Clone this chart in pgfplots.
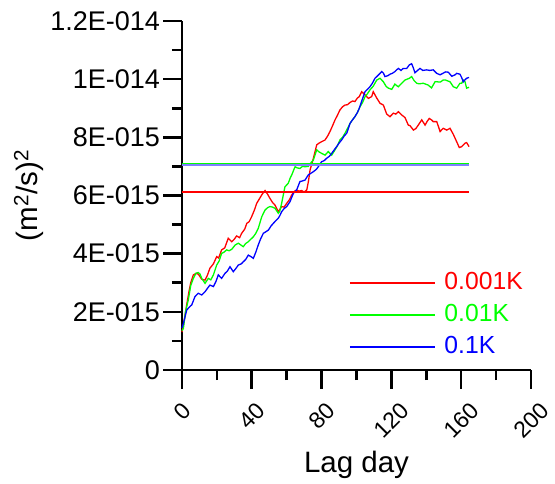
\documentclass[border=0pt]{standalone}
\usepackage{fontspec}
\setmainfont{Liberation Sans}
\usepackage{graphicx}
\usepackage{pgfplots}
\pgfplotsset{compat=1.18}
\definecolor{pgreen}{RGB}{0,255,0}
\definecolor{pblue}{RGB}{0,0,255}
\definecolor{pred}{RGB}{255,0,0}
\definecolor{lblue}{RGB}{128,128,255}
\begin{document}
\begin{tikzpicture}
\path[use as bounding box] (-182pt,-113pt) rectangle (373pt,370pt);
\begin{axis}[
  at={(0pt,0pt)}, anchor=south west,
  scale only axis, width=349pt, height=349pt,
  xmin=0, xmax=200, ymin=0, ymax=12,
  axis x line=bottom, axis y line=left,
  axis line style={-, line width=2.6pt},
  every tick/.style={black, line width=2.6pt},
  tick align=outside,
  major tick length=18.5pt, minor tick length=10pt,
  xtick={0,40,80,120,160,200},
  minor x tick num=1,
  ytick={0,2,4,6,8,10,12},
  yticklabels={0,2E-015,4E-015,6E-015,8E-015,1E-014,1.2E-014},
  minor y tick num=1,
  /pgf/number format/assume math mode=true,
  yticklabel style={font=\fontsize{27}{30}\selectfont},
  xticklabel style={font=\fontsize{23}{26}\selectfont, anchor=north, yshift=-9pt},
  xticklabel={\rotatebox{45}{\pgfmathprintnumber{\tick}}},
  xlabel={Lag day},
  xlabel style={yshift=-5pt},
  ylabel={(m\textsuperscript{2}/s)\textsuperscript{2}},
  label style={font=\fontsize{29.5}{33}\selectfont},
  clip=false,
  legend style={draw=none, fill=none, at={(axis cs:95.7,1.89)}, anchor=west,
    font=\fontsize{24.7}{28}\selectfont, inner sep=0pt, row sep=8pt,
    column sep=9pt,
    nodes={inner sep=0pt, text height=18pt, text depth=6pt}},
  legend cell align=left,
  legend image code/.code={\draw[#1] (0pt,0pt) -- (85pt,0pt);},
]
\addplot[pred, line width=1.3pt] coordinates {
(0,1.3) (1,1.6) (2.7,2.24) (4,2.7) (5,3.0) (6.5,3.27) (8,3.32) (9.3,3.30) (11.3,3.12) (13.2,3.09)
(14.5,3.25) (16,3.5) (18,3.65) (19.9,3.9) (21,3.85) (22.7,4.13) (24.5,4.2) (26.5,4.53) (28.5,4.41) (30,4.5)
(31.3,4.61) (33,4.55) (34.2,4.70) (36,4.85) (37.1,5.04) (38.5,5.1) (39.9,5.27) (41.5,5.5) (42.8,5.73) (44.5,5.9)
(46,6.05) (47.6,6.17) (49,6.05) (50.4,5.90) (52,5.75) (53.3,5.67) (55.2,5.44) (57.1,5.62) (58.5,5.6) (60,5.73)
(61.5,5.85) (62.9,6.02) (64.5,6.15) (65.7,6.19) (67,6.15) (68.6,6.17) (70,6.12) (71.5,6.19) (72.5,6.5) (73.4,6.88)
(75.3,7.28) (77.2,7.74) (78.5,7.8) (80,7.85) (82,7.91) (83.5,8.05) (84.8,8.2) (86.3,8.4) (87.7,8.6) (89,8.75)
(90.5,8.94) (92,9.05) (93.4,9.11) (94.8,9.12) (96.3,9.2) (97.8,9.25) (99.1,9.23) (100.5,9.35) (101.6,9.4) (103,9.57)
(104.9,9.46) (106.8,9.34) (108.7,9.4) (109.6,9.57) (111.6,9.35) (113.5,9.17) (115.4,9.11) (117.3,8.8) (119.2,8.71) (121.1,8.83)
(122.5,8.8) (124,8.88) (125.9,8.77) (127.8,8.68) (129.7,8.42) (130.7,8.4) (132.6,8.25) (134,8.3) (135.4,8.42) (137.4,8.6)
(139.3,8.42) (140.5,8.55) (141.7,8.65) (143,8.6) (144,8.54) (146,8.54) (147.9,8.2) (149.7,8.31) (151.7,8.25) (153.6,8.31)
(155.5,8.1) (157.4,7.85) (158.9,7.65) (160.3,7.68) (161.2,7.74) (162.2,7.8) (163.1,7.82) (164.5,7.68)
};
\addlegendentry{\textcolor{pred}{0.001K}}
\addplot[pgreen, line width=1.3pt] coordinates {
(0,1.35) (0.8,1.43) (2,2.0) (3.6,2.41) (5,2.9) (6.5,3.15) (8,3.33) (9.3,3.35) (10.3,3.3) (11.3,3.15)
(13.2,2.98) (15.1,3.15) (16.5,3.1) (18,3.27) (19.9,3.61) (21.3,3.75) (22.7,4.01) (24,4.05) (25.6,4.13) (27,4.1)
(28.5,4.15) (30.5,4.3) (32.3,4.36) (33.7,4.3) (35.1,4.24) (36.5,4.35) (38,4.41) (39.5,4.5) (40.9,4.58) (42.3,4.7)
(43.7,4.87) (45.7,5.27) (47.6,5.5) (49,5.58) (50.4,5.62) (52,5.6) (53.3,5.56) (55.2,5.39) (56,5.45) (57.1,5.73)
(58,6.0) (59,6.3) (60.9,6.42) (62,6.6) (62.9,6.71) (64.8,6.99) (66,6.95) (67.6,6.93) (69,7.0) (70.5,6.99)
(72.4,7.0) (73.5,7.1) (75.3,7.22) (77.2,7.57) (78.5,7.5) (80,7.45) (82,7.39) (83.8,7.51) (85.8,7.39) (87.7,7.57)
(89,7.7) (90.5,7.91) (92,8.0) (93.4,8.14) (94.8,8.3) (96.3,8.48) (97.7,8.6) (99.1,8.71) (100.5,8.85) (102,9.05)
(103.5,9.2) (104.9,9.4) (106.3,9.5) (107.7,9.63) (109.5,9.75) (111.6,9.97) (113.5,10.03) (115.4,9.91) (117,9.75) (118.3,9.69)
(120.2,9.65) (122,9.83) (123,9.78) (124,9.74) (125.9,9.86) (127.8,9.97) (129,10.0) (130.3,10.03) (131.6,10.09) (133,9.95)
(134.5,9.86) (136,9.84) (138.3,9.86) (140,9.82) (141,9.8) (143,9.7) (145,9.91) (146,9.91) (148,9.9) (149.7,9.97)
(151,9.97) (153.6,9.91) (155.5,9.74) (157.4,9.69) (159.3,9.86) (160.3,9.86) (161.2,9.97) (162.2,9.91) (163.1,9.69) (164.5,9.72)
};
\addlegendentry{\textcolor{pgreen}{0.01K}}
\addplot[pblue, line width=1.3pt] coordinates {
(0,1.45) (0.8,1.6) (2.7,2.06) (4,2.15) (5.6,2.24) (7.4,2.52) (9.3,2.64) (11.3,2.58) (13.2,2.69) (14.5,2.8)
(16,2.92) (18,2.87) (19.5,3.05) (20.8,3.27) (22.7,3.15) (24.6,3.32) (26,3.4) (27.5,3.55) (29.4,3.38) (31,3.5)
(32.3,3.61) (34,3.65) (35.1,3.72) (36.5,3.8) (38,3.95) (39.5,3.9) (40.9,3.84) (42.3,4.05) (43.7,4.3) (45,4.5)
(46.6,4.7) (48,4.75) (49.5,4.81) (51,4.95) (52.3,5.04) (54,5.15) (55.2,5.22) (56,5.3) (57.1,5.44) (58.5,5.55)
(60,5.62) (61.9,5.79) (63.8,6.07) (65.7,6.19) (67.6,6.48) (69,6.5) (70.5,6.53) (72.4,6.71) (73.5,6.75) (75.3,6.82)
(77,6.9) (78.1,6.99) (80,7.16) (81.5,7.2) (82.9,7.28) (84.5,7.35) (85.8,7.45) (87,7.55) (88.6,7.68) (90,7.8)
(91.5,7.91) (93,8.05) (94.4,8.14) (96.3,8.48) (97.7,8.6) (99.1,8.71) (100.5,8.85) (101.6,9.0) (103.3,9.3) (104.9,9.57)
(106.3,9.65) (107.7,9.74) (109,9.85) (110.6,10.03) (112.5,10.14) (114.5,10.26) (115.5,10.2) (116.3,10.09) (118,10.12) (119.2,10.17)
(120.5,10.2) (122,10.26) (123,10.32) (124,10.37) (125.5,10.3) (126.8,10.37) (128.8,10.37) (130.3,10.49) (131.6,10.53) (132.5,10.4)
(133.5,10.22) (135,10.3) (136.4,10.37) (138,10.3) (140.2,10.32) (142,10.3) (144,10.32) (146,10.2) (147.9,10.15) (149.5,10.2)
(151,10.25) (152.6,10.24) (154.6,10.1) (156.5,10.15) (157.4,10.2) (159.3,10.17) (160.3,10.05) (161.2,9.91) (162.2,9.98) (163.1,10.03) (164.5,10.06)
};
\addlegendentry{\textcolor{pblue}{0.1K}}
\addplot[pred, line width=1.1pt, forget plot] coordinates {(0,6.12) (164.5,6.12)};
\addplot[pgreen, line width=1.6pt, forget plot] coordinates {(0,7.10) (164.5,7.10)};
\addplot[lblue, line width=1.3pt, forget plot] coordinates {(0,7.05) (164.5,7.05)};
\end{axis}
\end{tikzpicture}
\end{document}
